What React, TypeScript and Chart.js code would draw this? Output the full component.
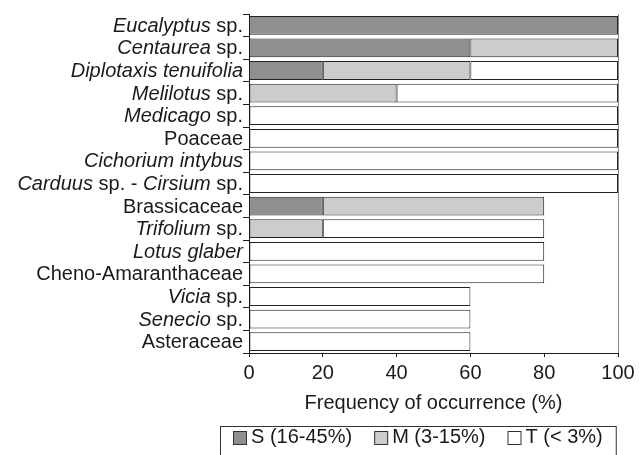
import { useEffect, useRef } from "react";
import { Chart, registerables } from "chart.js";

Chart.register(...registerables);

// Text between *...* is italic
const categories = [
  "*Eucalyptus* sp.",
  "*Centaurea* sp.",
  "*Diplotaxis tenuifolia*",
  "*Melilotus* sp.",
  "*Medicago* sp.",
  "Poaceae",
  "*Cichorium intybus*",
  "*Carduus* sp. - *Cirsium* sp.",
  "Brassicaceae",
  "*Trifolium* sp.",
  "*Lotus glaber*",
  "Cheno-Amaranthaceae",
  "*Vicia* sp.",
  "*Senecio* sp.",
  "Asteraceae",
];

const sValues = [100, 60, 20, null, null, null, null, null, 20, null, null, null, null, null, null];
const mValues = [null, 40, 40, 40, null, null, null, null, 60, 20, null, null, null, null, null];
const tValues = [null, null, 40, 60, 100, 100, 100, 100, null, 60, 80, 80, 60, 60, 60];

const seriesLabels = ["S (16-45%)", "M (3-15%)", "T (< 3%)"];
const seriesColors = ["#8f8f8f", "#cccccc", "#ffffff"];
const xTickValues = [0, 20, 40, 60, 80, 100];
const xTitle = "Frequency of occurrence (%)";

const FONT = "'Liberation Sans', Arial, Helvetica, sans-serif";
const INK = "#1a1a1a";

function parseParts(s: string) {
  return s.split("*").map((t, i) => ({ text: t, italic: i % 2 === 1 })).filter((p) => p.text.length > 0);
}

const mixedLabels = {
  id: "mixedLabels",
  afterDraw(chart: any) {
    const ctx = chart.ctx as CanvasRenderingContext2D;
    const yScale = chart.scales.y;
    const right = chart.chartArea.left - 6;
    ctx.save();
    ctx.fillStyle = INK;
    ctx.textBaseline = "middle";
    ctx.textAlign = "left";
    categories.forEach((c, i) => {
      const parts = parseParts(c);
      const widths = parts.map((p) => {
        ctx.font = `${p.italic ? "italic " : ""}20px ${FONT}`;
        return ctx.measureText(p.text).width;
      });
      const total = widths.reduce((a, b) => a + b, 0);
      let x = right - total;
      const y = yScale.getPixelForValue(i) + 1;
      parts.forEach((p, k) => {
        ctx.font = `${p.italic ? "italic " : ""}20px ${FONT}`;
        ctx.fillText(p.text, x, y);
        x += widths[k];
      });
    });
    ctx.restore();
  },
};

const frameAndLegend = {
  id: "frameAndLegend",
  afterDraw(chart: any) {
    const ctx = chart.ctx as CanvasRenderingContext2D;
    const { right, top, bottom } = chart.chartArea;
    ctx.save();
    // right frame line
    ctx.strokeStyle = "#8a8a8a";
    ctx.lineWidth = 1;
    ctx.beginPath();
    ctx.moveTo(Math.round(right) + 0.5, top);
    ctx.lineTo(Math.round(right) + 0.5, bottom);
    ctx.stroke();

    // legend
    ctx.font = `20px ${FONT}`;
    const box = 14;
    const gapBoxText = 4;
    const gapItems = 22;
    const padX = 13;
    const widths = seriesLabels.map((l) => ctx.measureText(l).width);
    const inner = widths.reduce((a, w) => a + box + gapBoxText + w, 0) + gapItems * (seriesLabels.length - 1);
    const total = inner + padX * 2;
    const centerX = 418;
    const left = Math.round(centerX - total / 2);
    const legTop = 426;
    ctx.strokeStyle = "#333";
    ctx.lineWidth = 1;
    ctx.strokeRect(left + 0.5, legTop + 0.5, total, 40);
    let x = left + padX;
    const cy = 437;
    ctx.textBaseline = "middle";
    ctx.textAlign = "left";
    seriesLabels.forEach((l, i) => {
      ctx.fillStyle = seriesColors[i];
      ctx.fillRect(x, cy - box / 2 + 1, box, box);
      ctx.strokeStyle = "#333";
      ctx.strokeRect(x + 0.5, cy - box / 2 + 1.5, box - 1, box - 1);
      ctx.fillStyle = INK;
      ctx.fillText(l, x + box + gapBoxText, cy);
      x += box + gapBoxText + widths[i] + gapItems;
    });
    ctx.restore();
  },
};

export default function App() {
  const ref = useRef<HTMLCanvasElement | null>(null);
  useEffect(() => {
    if (!ref.current) return;
    const mk = (i: number, data: (number | null)[]) => ({
      label: seriesLabels[i],
      data,
      backgroundColor: seriesColors[i],
      borderColor: "#222",
      borderWidth: 1,
      borderSkipped: false as const,
      barPercentage: 0.83,
      categoryPercentage: 1,
    });
    const chart = new Chart(ref.current, {
      type: "bar",
      data: {
        labels: categories.map((c) => c.replace(/\*/g, "")),
        datasets: [mk(0, sValues), mk(1, mValues), mk(2, tValues)],
      },
      options: {
        indexAxis: "y",
        animation: false,
        responsive: true,
        maintainAspectRatio: false,
        layout: { padding: { left: 0, top: 14, right: 21, bottom: 40 } },
        plugins: { legend: { display: false }, tooltip: { enabled: false } },
        scales: {
          x: {
            stacked: true,
            min: 0,
            max: 100,
            afterBuildTicks(scale: any) {
              scale.ticks = xTickValues.map((v) => ({ value: v }));
            },
            afterFit(scale: any) {
              scale.height = 62;
            },
            grid: { drawOnChartArea: false, tickLength: 4, color: INK },
            border: { display: true, color: INK, width: 1 },
            ticks: { color: INK, font: { family: FONT, size: 20 }, padding: 4, maxRotation: 0 },
            title: {
              display: true,
              text: xTitle,
              color: INK,
              font: { family: FONT, size: 20 },
              padding: { top: 0, bottom: 0 },
            },
          },
          y: {
            stacked: true,
            afterFit(scale: any) {
              scale.width = 249;
            },
            grid: { drawOnChartArea: false, tickLength: 6, color: INK, offset: true },
            border: { display: true, color: INK, width: 1 },
            ticks: { callback: () => "", padding: 0 },
          },
        },
      },
      plugins: [mixedLabels, frameAndLegend],
    });
    return () => chart.destroy();
  }, []);
  return (
    <div style={{ position: "fixed", left: 0, top: 0, width: 639, height: 455, background: "#fff" }}>
      <canvas ref={ref} />
    </div>
  );
}
